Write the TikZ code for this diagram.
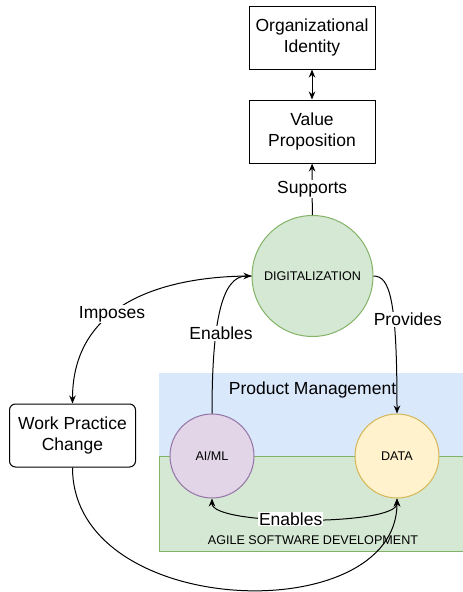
\documentclass[tikz,border=0pt]{standalone}
\usepackage{fontspec}
\setmainfont{Liberation Sans}
\usetikzlibrary{arrows.meta}

\definecolor{pmblue}{HTML}{DAE8FC}
\definecolor{agfill}{HTML}{D5E8D4}
\definecolor{agline}{HTML}{82B366}
\definecolor{aifill}{HTML}{E1D5E7}
\definecolor{ailine}{HTML}{9673A6}
\definecolor{dtfill}{HTML}{FFF2CC}
\definecolor{dtline}{HTML}{D6B656}

\begin{document}
\begin{tikzpicture}[x=1pt,y=-1pt,>={Stealth[length=8pt,width=6.5pt]},line width=1pt,
    box/.style={draw,minimum width=126pt,minimum height=63pt,align=center,inner sep=0pt,font=\fontsize{17.5}{21.5}\selectfont},
    bigfont/.style={font=\fontsize{17.5}{21.5}\selectfont},
    smallfont/.style={font=\fontsize{12.6}{14}\selectfont},
    lbl/.style={bigfont,fill=white,inner sep=1pt}]

    \useasboundingbox (0,0) rectangle (463,592);

    % 背景区域
    \fill[pmblue] (159,373) rectangle (470,456);
    \draw[agline,fill=agfill] (470,456) -- (159,456) -- (159,551) -- (470,551);
    \node[bigfont] (pm) at (312.5,390) {Product Management};
    \node[smallfont] (agile) at (313,540) {AGILE SOFTWARE DEVELOPMENT};

    % 方框
    \node[box] (orgid) at (312,37.5) {Organizational\\Identity};
    \node[box] (valprop) at (312,131.5) {Value\\Proposition};
    \node[box,rounded corners=6pt] (wpc) at (72.5,435.5) {Work Practice\\Change};

    % 圆形节点
    \node[circle,draw=agline,fill=agfill,minimum size=121pt,inner sep=0pt,smallfont] (digital) at (312.5,276) {DIGITALIZATION};
    \node[circle,draw=ailine,fill=aifill,minimum size=84pt,inner sep=0pt,smallfont] (aiml) at (212,456) {AI/ML};
    \node[circle,draw=dtline,fill=dtfill,minimum size=84pt,inner sep=0pt,smallfont] (data) at (397,456) {DATA};

    % 连线
    \draw[<->] (orgid) -- (valprop);
    \draw[->] (digital) -- node[lbl] {Supports} (valprop);
    \draw[->] (digital.west) .. controls (170,276) and (72.5,300) .. node[lbl,pos=0.6] {Imposes} (wpc.north);
    \draw[->] (aiml.north) .. controls (212,320) and (222,276) .. node[lbl,pos=0.35,xshift=5pt] {Enables} (digital.west);
    \draw[->] (digital.east) .. controls (390,276) and (397,300) .. node[lbl,pos=0.62,xshift=14pt] {Provides} (data.north);
    \draw[<->] (aiml.south) .. controls (212,526) and (397,526) .. node[lbl,pos=0.45] {Enables} (data.south);
    \draw[->] (wpc.south) .. controls (72.5,620) and (397,630) .. (data.south);

\end{tikzpicture}
\end{document}
